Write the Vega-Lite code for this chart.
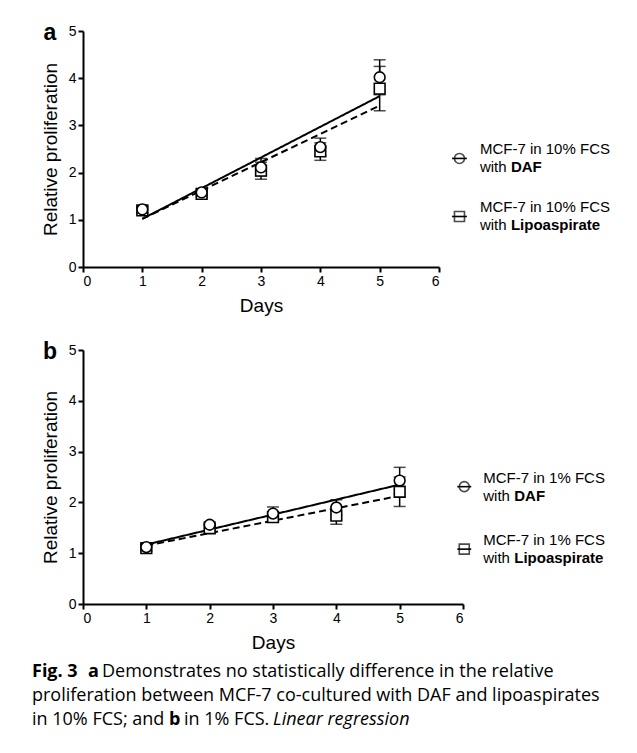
{
  "$schema": "https://vega.github.io/schema/vega-lite/v6.json",
  "background": "white",
  "padding": {"left": 32, "top": 21, "right": 5, "bottom": 5},
  "spacing": 8,
  "config": {
    "view": {"stroke": null},
    "axis": {
      "domainColor": "black", "domainWidth": 2, "tickColor": "black", "tickWidth": 2, "tickSize": 5,
      "labelFont": "Liberation Sans", "labelFontSize": 14, "labelColor": "black", "labelPadding": 2,
      "titleFont": "Liberation Sans", "titleFontSize": 19, "titleFontWeight": "normal", "titleColor": "black",
      "grid": false
    },
    "text": {"font": "Liberation Sans", "color": "black"}
  },
  "datasets": {
    "pts": [
      {"panel": "a", "series": "DAF", "day": 1, "mean": 1.22, "lo": 1.15, "hi": 1.29},
      {"panel": "a", "series": "DAF", "day": 2, "mean": 1.58, "lo": 1.51, "hi": 1.65},
      {"panel": "a", "series": "DAF", "day": 3, "mean": 2.11, "lo": 1.93, "hi": 2.30},
      {"panel": "a", "series": "DAF", "day": 4, "mean": 2.54, "lo": 2.36, "hi": 2.73},
      {"panel": "a", "series": "DAF", "day": 5, "mean": 4.02, "lo": 3.65, "hi": 4.39},
      {"panel": "a", "series": "Lipo", "day": 1, "mean": 1.20, "lo": 1.13, "hi": 1.27},
      {"panel": "a", "series": "Lipo", "day": 2, "mean": 1.55, "lo": 1.48, "hi": 1.62},
      {"panel": "a", "series": "Lipo", "day": 3, "mean": 2.04, "lo": 1.86, "hi": 2.22},
      {"panel": "a", "series": "Lipo", "day": 4, "mean": 2.45, "lo": 2.26, "hi": 2.63},
      {"panel": "a", "series": "Lipo", "day": 5, "mean": 3.78, "lo": 3.31, "hi": 4.25},
      {"panel": "b", "series": "DAF", "day": 1, "mean": 1.12, "lo": 1.06, "hi": 1.18},
      {"panel": "b", "series": "DAF", "day": 2, "mean": 1.56, "lo": 1.50, "hi": 1.62},
      {"panel": "b", "series": "DAF", "day": 3, "mean": 1.78, "lo": 1.66, "hi": 1.91},
      {"panel": "b", "series": "DAF", "day": 4, "mean": 1.90, "lo": 1.75, "hi": 2.05},
      {"panel": "b", "series": "DAF", "day": 5, "mean": 2.43, "lo": 2.17, "hi": 2.69},
      {"panel": "b", "series": "Lipo", "day": 1, "mean": 1.10, "lo": 1.04, "hi": 1.16},
      {"panel": "b", "series": "Lipo", "day": 2, "mean": 1.49, "lo": 1.43, "hi": 1.55},
      {"panel": "b", "series": "Lipo", "day": 3, "mean": 1.71, "lo": 1.61, "hi": 1.82},
      {"panel": "b", "series": "Lipo", "day": 4, "mean": 1.74, "lo": 1.57, "hi": 1.91},
      {"panel": "b", "series": "Lipo", "day": 5, "mean": 2.21, "lo": 1.92, "hi": 2.50}
    ],
    "fits": [
      {"panel": "a", "series": "DAF", "day": 1, "fit": 1.02},
      {"panel": "a", "series": "DAF", "day": 5, "fit": 3.62},
      {"panel": "a", "series": "Lipo", "day": 1, "fit": 1.02},
      {"panel": "a", "series": "Lipo", "day": 5, "fit": 3.42},
      {"panel": "b", "series": "DAF", "day": 1, "fit": 1.17},
      {"panel": "b", "series": "DAF", "day": 5, "fit": 2.35},
      {"panel": "b", "series": "Lipo", "day": 1, "fit": 1.15},
      {"panel": "b", "series": "Lipo", "day": 5, "fit": 2.13}
    ]
  },
  "vconcat": [
    {
      "spacing": 26,
      "vconcat": [
        {
          "width": 356, "height": 236,
          "layer": [
            {
              "data": {"name": "pts"}, "transform": [{"filter": "datum.panel === 'a'"}],
              "mark": {"type": "rule", "color": "black", "strokeWidth": 1.5},
              "encoding": {
                "x": {"field": "day", "type": "quantitative", "title": "Days", "scale": {"domain": [0, 6], "nice": false}, "axis": {"values": [0, 1, 2, 3, 4, 5, 6], "format": "d", "titlePadding": 8}},
                "y": {"field": "lo", "type": "quantitative", "title": "Relative proliferation", "scale": {"domain": [0, 5], "nice": false}, "axis": {"values": [0, 1, 2, 3, 4, 5], "format": "d", "titlePadding": 8}},
                "y2": {"field": "hi"}
              }
            },
            {
              "data": {"name": "pts"}, "transform": [{"filter": "datum.panel === 'a'"}],
              "mark": {"type": "tick", "orient": "horizontal", "color": "black", "size": 12, "thickness": 1.5},
              "encoding": {"x": {"field": "day", "type": "quantitative", "title": "Days"}, "y": {"field": "lo", "type": "quantitative", "title": "Relative proliferation"}}
            },
            {
              "data": {"name": "pts"}, "transform": [{"filter": "datum.panel === 'a'"}],
              "mark": {"type": "tick", "orient": "horizontal", "color": "black", "size": 12, "thickness": 1.5},
              "encoding": {"x": {"field": "day", "type": "quantitative", "title": "Days"}, "y": {"field": "hi", "type": "quantitative", "title": "Relative proliferation"}}
            },
            {
              "data": {"name": "fits"}, "transform": [{"filter": "datum.panel === 'a'"}],
              "mark": {"type": "line", "color": "black", "strokeWidth": 2},
              "encoding": {
                "x": {"field": "day", "type": "quantitative", "title": "Days"},
                "y": {"field": "fit", "type": "quantitative", "title": "Relative proliferation"},
                "strokeDash": {"field": "series", "type": "nominal", "scale": {"domain": ["DAF", "Lipo"], "range": [[1, 0], [7, 4]]}, "legend": null}
              }
            },
            {
              "data": {"name": "pts"}, "transform": [{"filter": "datum.panel === 'a'"}],
              "mark": {"type": "point", "filled": true, "fill": "white", "stroke": "black", "strokeWidth": 1.6, "size": 115, "opacity": 1},
              "encoding": {
                "x": {"field": "day", "type": "quantitative", "title": "Days"},
                "y": {"field": "mean", "type": "quantitative", "title": "Relative proliferation"},
                "shape": {"field": "series", "type": "nominal", "scale": {"domain": ["Lipo", "DAF"], "range": ["square", "circle"]}, "legend": null},
                "order": {"field": "series", "sort": "descending"}
              }
            },
            {
              "data": {"values": [{"label": "a"}]},
              "mark": {"type": "text", "fontSize": 23, "fontWeight": "bold", "align": "center", "baseline": "alphabetic"},
              "encoding": {"x": {"datum": -0.56}, "y": {"datum": 4.81}, "text": {"field": "label"}}
            },
            {
              "data": {"values": [{"s": "DAF"}]},
              "mark": {"type": "rule", "color": "black", "strokeWidth": 1.6},
              "encoding": {"x": {"datum": 6.22}, "x2": {"datum": 6.47}, "y": {"datum": 2.30}}
            },
            {
              "data": {"values": [{"s": "DAF"}]},
              "mark": {"type": "point", "shape": "circle", "filled": false, "stroke": "black", "strokeWidth": 1.6, "size": 100},
              "encoding": {"x": {"datum": 6.345}, "y": {"datum": 2.30}}
            },
            {
              "data": {"values": [{"t": "MCF-7 in 10% FCS"}]},
              "mark": {"type": "text", "fontSize": 15, "align": "left", "baseline": "middle", "dy": -9},
              "encoding": {"x": {"datum": 6.69}, "y": {"datum": 2.30}, "text": {"field": "t"}}
            },
            {
              "data": {"values": [{"t": "with"}]},
              "mark": {"type": "text", "fontSize": 15, "align": "left", "baseline": "middle", "dy": 9},
              "encoding": {"x": {"datum": 6.69}, "y": {"datum": 2.30}, "text": {"field": "t"}}
            },
            {
              "data": {"values": [{"t": "DAF"}]},
              "mark": {"type": "text", "fontSize": 15, "fontWeight": "bold", "align": "left", "baseline": "middle", "dy": 9, "dx": 31},
              "encoding": {"x": {"datum": 6.69}, "y": {"datum": 2.30}, "text": {"field": "t"}}
            },
            {
              "data": {"values": [{"s": "Lipo"}]},
              "mark": {"type": "rule", "color": "black", "strokeWidth": 1.6},
              "encoding": {"x": {"datum": 6.22}, "x2": {"datum": 6.47}, "y": {"datum": 1.07}}
            },
            {
              "data": {"values": [{"s": "Lipo"}]},
              "mark": {"type": "point", "shape": "square", "filled": false, "stroke": "black", "strokeWidth": 1.6, "size": 100},
              "encoding": {"x": {"datum": 6.345}, "y": {"datum": 1.07}}
            },
            {
              "data": {"values": [{"t": "MCF-7 in 10% FCS"}]},
              "mark": {"type": "text", "fontSize": 15, "align": "left", "baseline": "middle", "dy": -9},
              "encoding": {"x": {"datum": 6.69}, "y": {"datum": 1.07}, "text": {"field": "t"}}
            },
            {
              "data": {"values": [{"t": "with"}]},
              "mark": {"type": "text", "fontSize": 15, "align": "left", "baseline": "middle", "dy": 9},
              "encoding": {"x": {"datum": 6.69}, "y": {"datum": 1.07}, "text": {"field": "t"}}
            },
            {
              "data": {"values": [{"t": "Lipoaspirate"}]},
              "mark": {"type": "text", "fontSize": 15, "fontWeight": "bold", "align": "left", "baseline": "middle", "dy": 9, "dx": 31},
              "encoding": {"x": {"datum": 6.69}, "y": {"datum": 1.07}, "text": {"field": "t"}}
            }
          ]
        },
        {
          "width": 380, "height": 254,
          "layer": [
            {
              "data": {"name": "pts"}, "transform": [{"filter": "datum.panel === 'b'"}],
              "mark": {"type": "rule", "color": "black", "strokeWidth": 1.5},
              "encoding": {
                "x": {"field": "day", "type": "quantitative", "title": "Days", "scale": {"domain": [0, 6], "nice": false}, "axis": {"values": [0, 1, 2, 3, 4, 5, 6], "format": "d", "titlePadding": 8}},
                "y": {"field": "lo", "type": "quantitative", "title": "Relative proliferation", "scale": {"domain": [0, 5], "nice": false}, "axis": {"values": [0, 1, 2, 3, 4, 5], "format": "d", "titlePadding": 8}},
                "y2": {"field": "hi"}
              }
            },
            {
              "data": {"name": "pts"}, "transform": [{"filter": "datum.panel === 'b'"}],
              "mark": {"type": "tick", "orient": "horizontal", "color": "black", "size": 12, "thickness": 1.5},
              "encoding": {"x": {"field": "day", "type": "quantitative", "title": "Days"}, "y": {"field": "lo", "type": "quantitative", "title": "Relative proliferation"}}
            },
            {
              "data": {"name": "pts"}, "transform": [{"filter": "datum.panel === 'b'"}],
              "mark": {"type": "tick", "orient": "horizontal", "color": "black", "size": 12, "thickness": 1.5},
              "encoding": {"x": {"field": "day", "type": "quantitative", "title": "Days"}, "y": {"field": "hi", "type": "quantitative", "title": "Relative proliferation"}}
            },
            {
              "data": {"name": "fits"}, "transform": [{"filter": "datum.panel === 'b'"}],
              "mark": {"type": "line", "color": "black", "strokeWidth": 2},
              "encoding": {
                "x": {"field": "day", "type": "quantitative", "title": "Days"},
                "y": {"field": "fit", "type": "quantitative", "title": "Relative proliferation"},
                "strokeDash": {"field": "series", "type": "nominal", "scale": {"domain": ["DAF", "Lipo"], "range": [[1, 0], [7, 4]]}, "legend": null}
              }
            },
            {
              "data": {"name": "pts"}, "transform": [{"filter": "datum.panel === 'b'"}],
              "mark": {"type": "point", "filled": true, "fill": "white", "stroke": "black", "strokeWidth": 1.6, "size": 115, "opacity": 1},
              "encoding": {
                "x": {"field": "day", "type": "quantitative", "title": "Days"},
                "y": {"field": "mean", "type": "quantitative", "title": "Relative proliferation"},
                "shape": {"field": "series", "type": "nominal", "scale": {"domain": ["Lipo", "DAF"], "range": ["square", "circle"]}, "legend": null},
                "order": {"field": "series", "sort": "descending"}
              }
            },
            {
              "data": {"values": [{"label": "b"}]},
              "mark": {"type": "text", "fontSize": 23, "fontWeight": "bold", "align": "center", "baseline": "alphabetic"},
              "encoding": {"x": {"datum": -0.52}, "y": {"datum": 4.82}, "text": {"field": "label"}}
            },
            {
              "data": {"values": [{"s": "DAF"}]},
              "mark": {"type": "rule", "color": "black", "strokeWidth": 1.6},
              "encoding": {"x": {"datum": 5.91}, "x2": {"datum": 6.13}, "y": {"datum": 2.31}}
            },
            {
              "data": {"values": [{"s": "DAF"}]},
              "mark": {"type": "point", "shape": "circle", "filled": false, "stroke": "black", "strokeWidth": 1.6, "size": 100},
              "encoding": {"x": {"datum": 6.02}, "y": {"datum": 2.31}}
            },
            {
              "data": {"values": [{"t": "MCF-7 in 1% FCS"}]},
              "mark": {"type": "text", "fontSize": 15, "align": "left", "baseline": "middle", "dy": -9},
              "encoding": {"x": {"datum": 6.32}, "y": {"datum": 2.31}, "text": {"field": "t"}}
            },
            {
              "data": {"values": [{"t": "with"}]},
              "mark": {"type": "text", "fontSize": 15, "align": "left", "baseline": "middle", "dy": 9},
              "encoding": {"x": {"datum": 6.32}, "y": {"datum": 2.31}, "text": {"field": "t"}}
            },
            {
              "data": {"values": [{"t": "DAF"}]},
              "mark": {"type": "text", "fontSize": 15, "fontWeight": "bold", "align": "left", "baseline": "middle", "dy": 9, "dx": 31},
              "encoding": {"x": {"datum": 6.32}, "y": {"datum": 2.31}, "text": {"field": "t"}}
            },
            {
              "data": {"values": [{"s": "Lipo"}]},
              "mark": {"type": "rule", "color": "black", "strokeWidth": 1.6},
              "encoding": {"x": {"datum": 5.91}, "x2": {"datum": 6.13}, "y": {"datum": 1.08}}
            },
            {
              "data": {"values": [{"s": "Lipo"}]},
              "mark": {"type": "point", "shape": "square", "filled": false, "stroke": "black", "strokeWidth": 1.6, "size": 100},
              "encoding": {"x": {"datum": 6.02}, "y": {"datum": 1.08}}
            },
            {
              "data": {"values": [{"t": "MCF-7 in 1% FCS"}]},
              "mark": {"type": "text", "fontSize": 15, "align": "left", "baseline": "middle", "dy": -9},
              "encoding": {"x": {"datum": 6.32}, "y": {"datum": 1.08}, "text": {"field": "t"}}
            },
            {
              "data": {"values": [{"t": "with"}]},
              "mark": {"type": "text", "fontSize": 15, "align": "left", "baseline": "middle", "dy": 9},
              "encoding": {"x": {"datum": 6.32}, "y": {"datum": 1.08}, "text": {"field": "t"}}
            },
            {
              "data": {"values": [{"t": "Lipoaspirate"}]},
              "mark": {"type": "text", "fontSize": 15, "fontWeight": "bold", "align": "left", "baseline": "middle", "dy": 9, "dx": 31},
              "encoding": {"x": {"datum": 6.32}, "y": {"datum": 1.08}, "text": {"field": "t"}}
            }
          ]
        }
      ]
    },
    {
      "width": 560, "height": 72,
      "encoding": {
        "x": {"datum": 0, "type": "quantitative", "scale": {"domain": [0, 1]}, "axis": null},
        "y": {"field": "line", "type": "ordinal", "scale": {"domain": [1, 2, 3]}, "axis": null},
        "text": {"field": "t"}
      },
      "layer": [
        {"data": {"values": [{"line": 1, "t": "Fig. 3"}]}, "mark": {"type": "text", "font": "Open Sans", "fontSize": 18, "fontWeight": "bold", "align": "left", "baseline": "middle", "dx": -51}},
        {"data": {"values": [{"line": 1, "t": "a"}]}, "mark": {"type": "text", "font": "Open Sans", "fontSize": 18, "fontWeight": "bold", "align": "left", "baseline": "middle", "dx": 5}},
        {"data": {"values": [{"line": 1, "t": "Demonstrates no statistically difference in the relative"}]}, "mark": {"type": "text", "font": "Open Sans", "fontSize": 18, "align": "left", "baseline": "middle", "dx": 19}},
        {"data": {"values": [{"line": 2, "t": "proliferation between MCF-7 co-cultured with DAF and lipoaspirates"}]}, "mark": {"type": "text", "font": "Open Sans", "fontSize": 18, "align": "left", "baseline": "middle", "dx": -51}},
        {"data": {"values": [{"line": 3, "t": "in 10% FCS; and"}]}, "mark": {"type": "text", "font": "Open Sans", "fontSize": 18, "align": "left", "baseline": "middle", "dx": -51}},
        {"data": {"values": [{"line": 3, "t": "b"}]}, "mark": {"type": "text", "font": "Open Sans", "fontSize": 18, "fontWeight": "bold", "align": "left", "baseline": "middle", "dx": 86}},
        {"data": {"values": [{"line": 3, "t": "in 1% FCS."}]}, "mark": {"type": "text", "font": "Open Sans", "fontSize": 18, "align": "left", "baseline": "middle", "dx": 101}},
        {"data": {"values": [{"line": 3, "t": "Linear regression"}]}, "mark": {"type": "text", "font": "Open Sans", "fontSize": 18, "fontStyle": "italic", "align": "left", "baseline": "middle", "dx": 190}}
      ]
    }
  ]
}
